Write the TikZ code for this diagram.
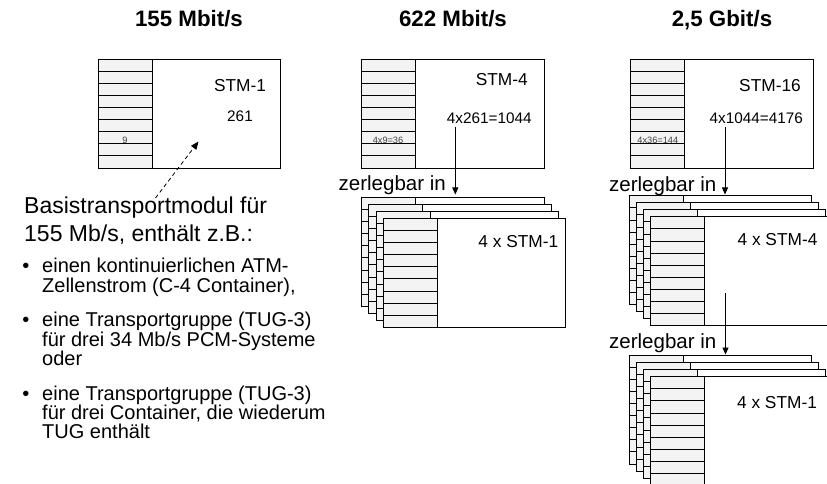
\documentclass[tikz,border=0pt]{standalone}
\usepackage{fontspec}
\setmainfont{Liberation Sans}
\usetikzlibrary{arrows.meta}
\definecolor{colgray}{HTML}{F3F3F3}
\tikzset{
  frame/.style={draw=black, line width=0.9bp},
  rowline/.style={draw=black, line width=0.8bp},
  hdr/.style={font=\fontsize{22.3bp}{24bp}\selectfont\bfseries, anchor=base, inner sep=0pt},
  stmlbl/.style={font=\fontsize{17.3bp}{19bp}\selectfont, anchor=base, inner sep=0pt},
  numlbl/.style={font=\fontsize{15.3bp}{17bp}\selectfont, anchor=base, inner sep=0pt},
  smalllbl/.style={font=\fontsize{9.2bp}{10bp}\selectfont, text=black!75, inner sep=0pt},
  zerlbl/.style={font=\fontsize{20.5bp}{22bp}\selectfont, anchor=base east, inner sep=0pt},
  bigtxt/.style={font=\fontsize{23bp}{25bp}\selectfont, anchor=base west, inner sep=0pt},
  bultxt/.style={font=\fontsize{20bp}{21bp}\selectfont, anchor=base west, inner sep=0pt},
  bulmark/.style={font=\fontsize{20bp}{21bp}\selectfont, anchor=base, inner sep=0pt},
  arr/.style={draw=black, line width=0.8bp, -{Triangle[length=7bp,width=6bp]}},
  dasharr/.style={draw=black, line width=0.8bp, dash pattern=on 4bp off 3bp, -{Triangle[length=8bp,width=6.5bp]}}
}
% #1 = left x, #2 = top y (y grows downward)
\newcommand{\stmframe}[2]{%
  \fill[white] (#1,#2) rectangle ++(182.5,109);
  \fill[colgray] (#1,#2) rectangle ++(54,109);
  \foreach \k in {1,...,8} {\draw[rowline] (#1,#2+\k*12.111) -- ++(54,0);}
  \draw[frame] (#1,#2) rectangle ++(182.5,109);
  \draw[frame] (#1+54,#2) -- ++(0,109);
}
\begin{document}
\begin{tikzpicture}[x=1bp,y=-1bp]
\useasboundingbox (0,0) rectangle (827,484);
\fill[white] (0,0) rectangle (827,484);

% headers
\node[hdr] (h1) at (189,26.7) {155 Mbit/s};
\node[hdr] (h2) at (453,26.7) {622 Mbit/s};
\node[hdr] (h3) at (722,26.7) {2,5 Gbit/s};

% STM-1 frame
\stmframe{98}{59}
\node[stmlbl] (stm1) at (240,92) {STM-1};
\node[numlbl] (n261) at (240,122) {261};
\node[smalllbl] (s9) at (125,140.5) {9};

% STM-4 frame
\stmframe{361.7}{59}
\node[stmlbl] (stm4) at (501.7,85.5) {STM-4};
\node[numlbl] (n1044) at (489.3,124) {4x261=1044};
\node[smalllbl] (s36) at (388,140.5) {4x9=36};

% STM-16 frame
\stmframe{630.7}{59}
\node[stmlbl] (stm16) at (770,91.5) {STM-16};
\node[numlbl] (n4176) at (756.3,124) {4x1044=4176};
\node[smalllbl] (s144) at (657.8,140.5) {4x36=144};

% stack 4 x STM-1 (622)
\stmframe{361.7}{197.3}
\stmframe{368.9}{204.3}
\stmframe{376.1}{211.3}
\stmframe{383.3}{218.3}
\node[stmlbl] (st1) at (518.3,247.3) {4 x STM-1};

% stack 4 x STM-4 (2,5G)
\stmframe{629}{195.7}
\stmframe{636.2}{202.7}
\stmframe{643.4}{209.7}
\stmframe{650.6}{216.7}
\node[stmlbl] (st4) at (777.5,246) {4 x STM-4};

% stack 4 x STM-1 (2,5G)
\stmframe{629}{355}
\stmframe{636.2}{362.2}
\stmframe{643.4}{369.4}
\stmframe{650.6}{376.6}
\node[stmlbl] (st1b) at (777,408) {4 x STM-1};

% zerlegbar in
\node[zerlbl] (z1) at (446,191) {zerlegbar in};
\node[zerlbl] (z2) at (716.5,191.5) {zerlegbar in};
\node[zerlbl] (z3) at (716.5,348.3) {zerlegbar in};

% arrows
\coordinate (a1s) at (455.3,127);
\coordinate (a1e) at (455.3,194.5);
\draw[arr] (a1s) -- (a1e);
\coordinate (a2s) at (725,127);
\coordinate (a2e) at (725,194.5);
\draw[arr] (a2s) -- (a2e);
\coordinate (a3s) at (725.5,293);
\coordinate (a3e) at (725.5,354.5);
\draw[arr] (a3s) -- (a3e);

% dashed pointer
\coordinate (ds) at (155.5,198);
\coordinate (de) at (198.5,141.5);
\draw[dasharr] (ds) -- (de);

% left text
\node[bigtxt] (bt1) at (24,213.5) {Basistransportmodul für};
\node[bigtxt] (bt2) at (24,242) {155 Mb/s, enthält z.B.:};

\node[bulmark] (m1) at (26,273) {•};
\node[bultxt] (l1) at (42,273) {einen kontinuierlichen ATM-};
\node[bultxt] (l2) at (42,292.3) {Zellenstrom (C-4 Container),};
\node[bulmark] (m2) at (26,327) {•};
\node[bultxt] (l3) at (42,327) {eine Transportgruppe (TUG-3)};
\node[bultxt] (l4) at (42,346.3) {für drei 34 Mb/s PCM-Systeme};
\node[bultxt] (l5) at (42,365.6) {oder};
\node[bulmark] (m3) at (26,400) {•};
\node[bultxt] (l6) at (42,400) {eine Transportgruppe (TUG-3)};
\node[bultxt] (l7) at (42,419.3) {für drei Container, die wiederum};
\node[bultxt] (l8) at (42,438.6) {TUG enthält};
\end{tikzpicture}
\end{document}
